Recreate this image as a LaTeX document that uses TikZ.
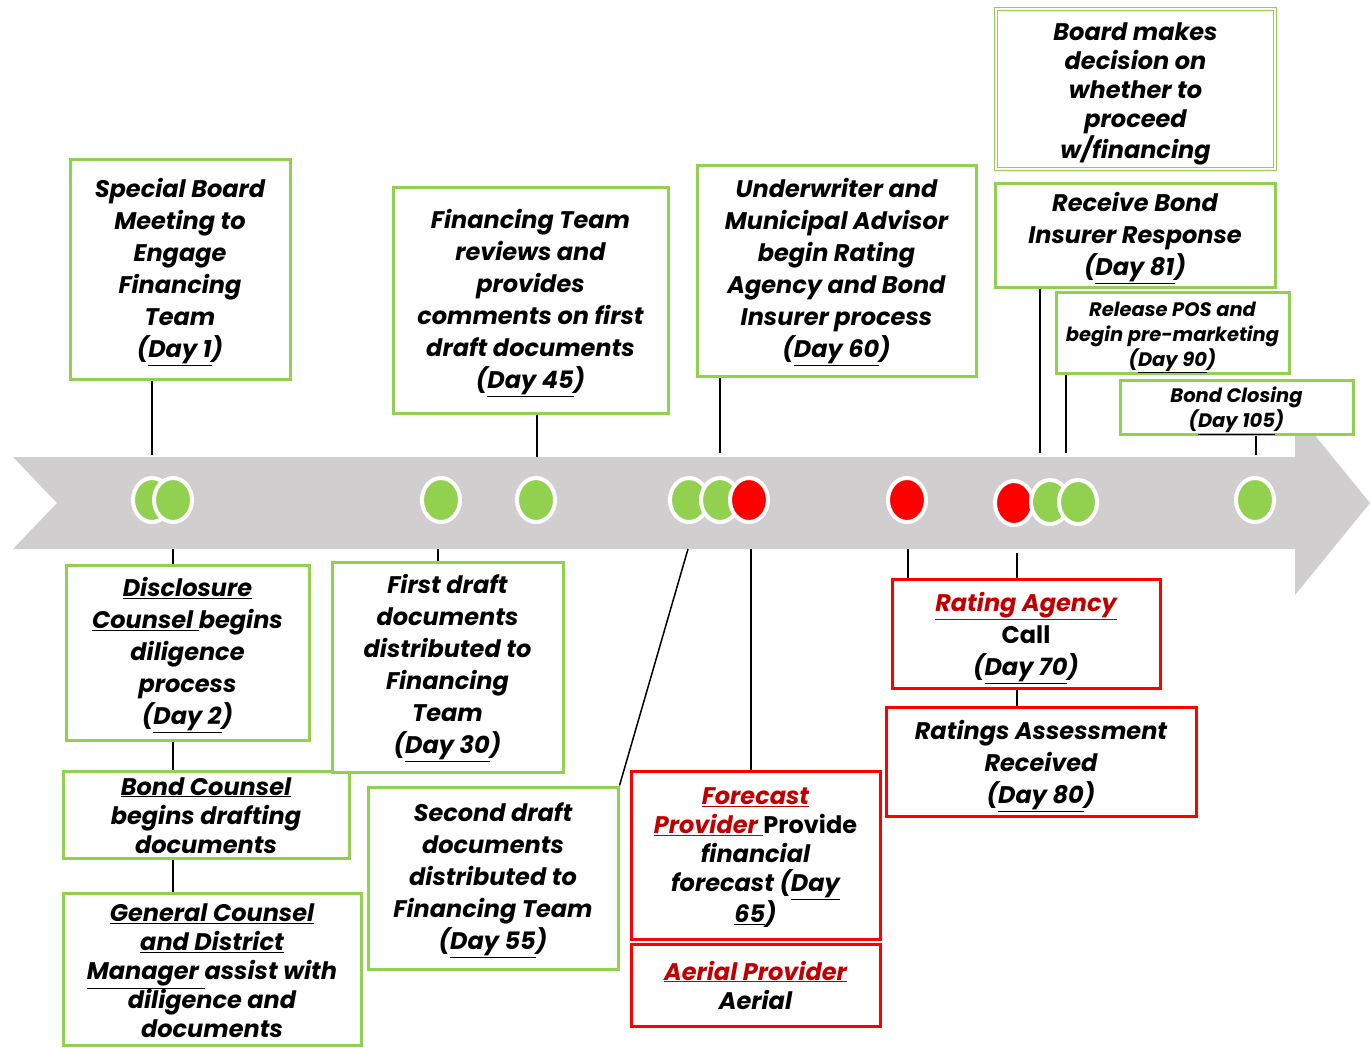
\documentclass[tikz,border=0pt]{standalone}
\usepackage{fontspec}
\usetikzlibrary{shapes.geometric}
\setmainfont{Poppins}
\definecolor{bandgrey}{HTML}{D0CECE}
\definecolor{lgreen}{HTML}{92D050}
\definecolor{bred}{HTML}{FF0000}
\definecolor{dred}{HTML}{C00000}
\newcommand{\rd}[1]{\textcolor{dred}{\underline{#1}}}
\newcommand{\sh}[1]{\rule{0pt}{#1em}}
\begin{document}
\begin{tikzpicture}[x=1pt,y=-1pt,
  box/.style={draw, fill=white, line width=3pt, inner sep=0pt, align=center,
    font=\fontsize{24}{32}\selectfont\bfseries\itshape},
  gbox/.style={box, draw=lgreen},
  rbox/.style={box, draw=bred},
  dense/.style={font=\fontsize{24}{29}\selectfont\bfseries\itshape},
  small/.style={font=\fontsize{19.5}{25}\selectfont\bfseries\itshape},
  conn/.style={line width=1.5pt, black},
  dotg/.style={ellipse, fill=lgreen, draw=white, line width=4pt, minimum width=38pt, minimum height=44pt, inner sep=0pt},
  dotr/.style={dotg, fill=bred},
]
\useasboundingbox (0,0) rectangle (1370,1047);
% timeline band
\fill[bandgrey] (13,457) -- (1295,457) -- (1295,411) -- (1370,503) -- (1295,595) -- (1295,549) -- (13,549) -- (57,503) -- cycle;

% band attachment points
\coordinate (t1) at (152,455);
\coordinate (t2) at (537,457);
\coordinate (t3) at (720,453);
\coordinate (t5) at (1040,453);
\coordinate (t6) at (1066,453);
\coordinate (t7) at (1256,455);
\coordinate (b8) at (173,549);
\coordinate (b11) at (438,549);
\coordinate (b12) at (688,549);
\coordinate (b13) at (751,549);
\coordinate (b15a) at (908,549);
\coordinate (b15b) at (1017,553);

% top boxes
\node[gbox, minimum width=220pt, minimum height=220pt] (n1) at (180,269)
  {\sh{1.07}Special Board\\Meeting to\\Engage\\Financing\\Team\\(\underline{Day 1})};
\node[gbox, minimum width=275pt, minimum height=226pt] (n2) at (530.5,300)
  {\sh{1.07}Financing Team\\reviews and\\provides\\comments on first\\draft documents\\(\underline{Day 45})};
\node[gbox, minimum width=279pt, minimum height=211pt] (n3) at (836.5,270.5)
  {\sh{0.95}Underwriter and\\Municipal Advisor\\begin Rating\\Agency and Bond\\Insurer process\\(\underline{Day 60})};
\node[gbox, dense, line width=1.2pt, double=white, double distance=2.5pt, minimum width=279pt, minimum height=160pt] (n4) at (1135.5,89)
  {\sh{1.15}Board makes\\decision on\\whether to\\proceed\\w/financing};
\node[gbox, minimum width=280pt, minimum height=104pt] (n5) at (1135,235)
  {\sh{1.07}Receive Bond\\Insurer Response\\(\underline{Day 81})};
\node[gbox, small, minimum width=233pt, minimum height=78pt] (n6) at (1172.5,333)
  {\sh{1.2}Release POS and\\begin pre-marketing\\(\underline{Day 90})};
\node[gbox, small, minimum width=233pt, minimum height=53pt] (n7) at (1236.5,407.5)
  {\sh{1.1}Bond Closing\\(\underline{Day 105})};

% bottom boxes
\node[gbox, minimum width=243pt, minimum height=175pt] (n8) at (187.5,652.5)
  {\sh{1.0}\underline{Disclosure}\\\underline{Counsel\ }begins\\diligence\\process\\(\underline{Day 2})};
\node[gbox, dense, minimum width=286pt, minimum height=87pt] (n9) at (206,814.5)
  {\sh{0.8}\underline{Bond Counsel}\\begins drafting\\documents};
\node[gbox, dense, minimum width=298pt, minimum height=152pt] (n10) at (212,969)
  {\sh{0.9}\underline{General Counsel}\\\underline{and District}\\\underline{Manager\ }assist with\\diligence and\\documents};
\node[gbox, minimum width=231pt, minimum height=210pt] (n11) at (447.5,667)
  {\sh{0.9}First draft\\documents\\distributed to\\Financing\\Team\\(\underline{Day 30})};
\node[gbox, minimum width=250pt, minimum height=182pt] (n12) at (493,878)
  {\sh{0.95}Second draft\\documents\\distributed to\\Financing Team\\(\underline{Day 55})};
\node[rbox, dense, minimum width=249pt, minimum height=168pt] (n13) at (755.5,855)
  {\sh{0.9}\rd{Forecast}\\\rd{Provider\ }{\upshape Provide}\\financial\\forecast (\underline{Day}\\\underline{65})};
\node[rbox, dense, minimum width=249pt, minimum height=82pt] (n14) at (755.5,985)
  {\sh{0.8}\rd{Aerial Provider}\\Aerial};
\node[rbox, minimum width=268pt, minimum height=109pt] (n15) at (1026,633.5)
  {\sh{1.15}\rd{Rating Agency}\\{\upshape Call}\\(\underline{Day 70})};
\node[rbox, minimum width=310pt, minimum height=109pt] (n16) at (1041,761.5)
  {\sh{1.15}Ratings Assessment\\Received\\(\underline{Day 80})};

% connectors
\draw[conn] (n1.south -| t1) -- (t1);
\draw[conn] (n2.south -| t2) -- (t2);
\draw[conn] (n3.south -| t3) -- (t3);
\draw[conn] (n5.south -| t5) -- (t5);
\draw[conn] (n6.south -| t6) -- (t6);
\draw[conn] (n7.south -| t7) -- (t7);
\draw[conn] (b8) -- (n8.north -| b8);
\draw[conn] (n8.south -| b8) -- (n9.north -| b8);
\draw[conn] (n9.south -| b8) -- (n10.north -| b8);
\draw[conn] (b11) -- (n11.north -| b11);
\draw[conn] (b12) -- (n12.north east);
\draw[conn] (b13) -- (n13.north -| b13);
\draw[conn] (b15a) -- (n15.north -| b15a);
\draw[conn] (b15b) -- (n15.north -| b15b);
\draw[conn] (n15.south -| b15b) -- (n16.north -| b15b);

% milestone dots
\node[dotg] (d1) at (152,500) {};
\node[dotg] (d2) at (173,500) {};
\node[dotg] (d3) at (441,500) {};
\node[dotg] (d4) at (536,500) {};
\node[dotg] (d5) at (689,500) {};
\node[dotg] (d6) at (720,500) {};
\node[dotr] (d7) at (749,500) {};
\node[dotr] (d8) at (907,500) {};
\node[dotr] (d9) at (1014,503) {};
\node[dotg] (d10) at (1050,502) {};
\node[dotg] (d11) at (1078,502) {};
\node[dotg] (d12) at (1255,500) {};
\end{tikzpicture}
\end{document}
